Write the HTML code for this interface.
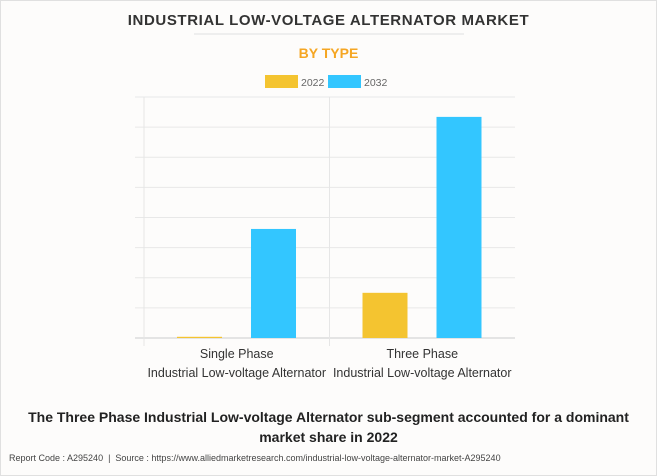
<!DOCTYPE html>
<html><head><meta charset="utf-8"><style>
body{margin:0;background:#fff;}
#wrap{position:relative;width:655px;height:474px;border:1px solid #e0e0e0;background:#fdfcfb;font-family:"Liberation Sans",sans-serif;overflow:hidden;}
.t{position:absolute;left:0;width:655px;text-align:center;}
</style></head><body>
<div id="wrap">
<div class="t" style="top:11px;font-size:15px;font-weight:bold;color:#333;letter-spacing:0.6px">INDUSTRIAL LOW-VOLTAGE ALTERNATOR MARKET</div>
<div style="position:absolute;left:193px;top:32px;width:270px;height:2px;background:#eee"></div>
<div class="t" style="top:44px;font-size:14px;font-weight:bold;color:#f5a623">BY TYPE</div>
<svg id="chart" width="655" height="400" style="position:absolute;left:0;top:0"></svg>
<div class="t" style="top:406px;font-size:14px;font-weight:bold;color:#222;line-height:20px;padding:0 20px;box-sizing:border-box">The Three Phase Industrial Low-voltage Alternator sub-segment accounted for a dominant market share in 2022</div>
<div style="position:absolute;left:8px;top:452px;font-size:9px;color:#444">Report Code : A295240 &nbsp;|&nbsp; Source : https://www.alliedmarketresearch.com/industrial-low-voltage-alternator-market-A295240</div>
</div>
<script>
const categories=["Single Phase|Industrial Low-voltage Alternator","Three Phase|Industrial Low-voltage Alternator"];
const series2022=[0.04,1.5];
const series2032=[3.62,7.34];
const seriesNames=["2022","2032"];
const yMax=8;
const svg=document.getElementById('chart');
const NS='http://www.w3.org/2000/svg';
const X0=143,X1=514,Y0=337,Y1=96;
const y=v=>Y0-(v/yMax)*(Y0-Y1);
const bandW=(X1-X0)/categories.length;
function mk(t,a,name){const e=document.createElementNS(NS,t);for(const k in a)e.setAttribute(k,a[k]);


svg.appendChild(e);return e;}
for(let i=0;i<=yMax;i++){mk('line',{x1:X0-9,x2:X1,y1:y(i),y2:y(i),stroke:i==0?'#ccc':'#e8e8e8','stroke-width':1},'gridline');}
for(let i=0;i<=categories.length;i++){const x=X0+i*bandW;if(i<categories.length)mk('line',{x1:x,x2:x,y1:Y1,y2:Y0+8,stroke:'#e6e6e6'},'category-divider');}
const colors=["#f4c430","#33c6ff"];
const data=[series2022,series2032];
const offs=[33,107],bw=45;
categories.forEach((c,i)=>{
 data.forEach((s,j)=>{const x=X0+i*bandW+offs[j];
  mk('rect',{x:x,y:y(s[i]),width:bw,height:Math.max(1,Y0-y(s[i])),fill:colors[j]},'bar-'+seriesNames[j]+'-'+i);});
 const lines=c.split('|');
 lines.forEach((l,k)=>{const t=mk('text',{x:X0+i*bandW+bandW/2,y:357+k*19,'text-anchor':'middle','font-size':12.5,fill:'#333','font-family':'Liberation Sans, sans-serif'},'x-axis-label');t.textContent=l;});
});
seriesNames.forEach((n,j)=>{const lx=264+j*63;
 mk('rect',{x:lx,y:74,width:33,height:13,fill:colors[j]},'legend-swatch-'+n);
 const t=mk('text',{x:lx+36,y:85,'font-size':10.5,fill:'#666','font-family':'Liberation Sans, sans-serif'},'legend-entry-'+n);t.textContent=n;});
</script>
</body></html>
